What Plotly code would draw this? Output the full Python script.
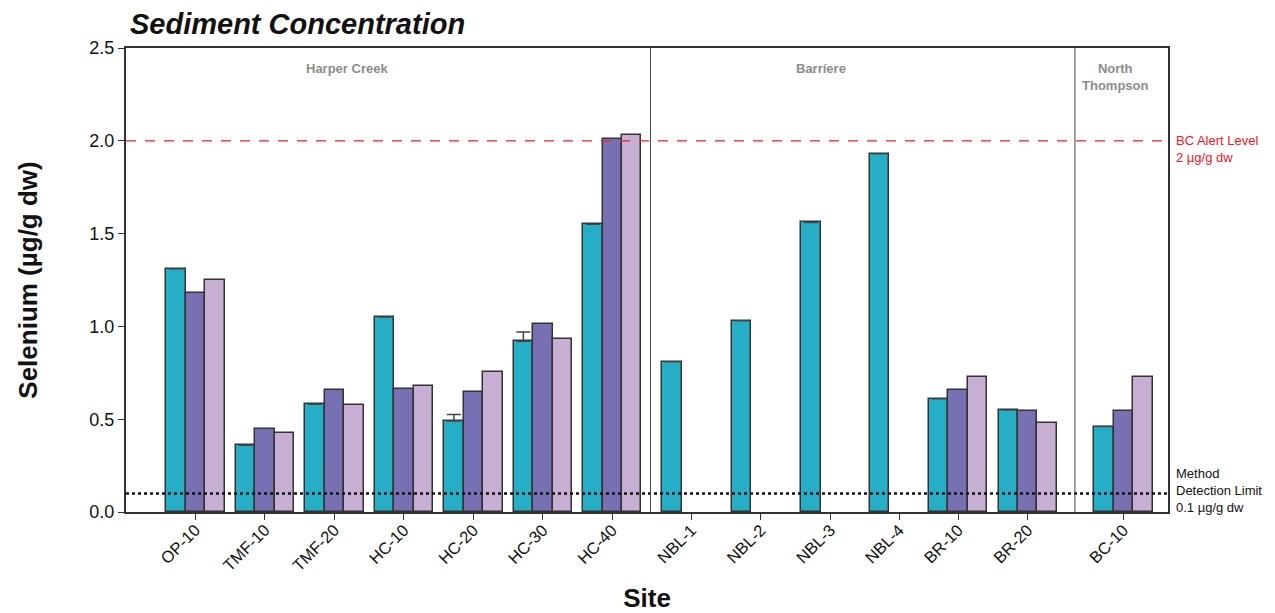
import plotly.graph_objects as go

sites = ["OP-10", "TMF-10", "TMF-20", "HC-10", "HC-20", "HC-30", "HC-40",
         "NBL-1", "NBL-2", "NBL-3", "NBL-4", "BR-10", "BR-20", "BC-10"]
series1 = [1.31, 0.36, 0.58, 1.05, 0.49, 0.92, 1.55, 0.81, 1.03, 1.56, 1.93, 0.61, 0.55, 0.46]
series2 = [1.18, 0.445, 0.655, 0.665, 0.645, 1.015, 2.01, None, None, None, None, 0.66, 0.545, 0.545]
series3 = [1.25, 0.425, 0.575, 0.68, 0.755, 0.93, 2.03, None, None, None, None, 0.725, 0.48, 0.725]
series1_err_plus = [0, 0, 0, 0, 0.035, 0.05, 0, 0, 0, 0, 0, 0, 0, 0]
alert_level = 2.0
detection_limit = 0.1
y_ticks = [0.0, 0.5, 1.0, 1.5, 2.0, 2.5]

# layout positions of site slots on the x axis
x_pos = [0, 1, 2, 3, 4, 5, 6, 7.14, 8.14, 9.14, 10.13, 10.98, 11.98, 13.36]
dividers = [6.55, 12.66]

colors = ["#26AEC6", "#7771B3", "#C7AFD4"]
outline = dict(color="#333333", width=1.5)
bw = 0.28
offsets = [-0.42, -0.14, 0.14]

fig = go.Figure()
for vals, col, off, err in [(series1, colors[0], offsets[0], series1_err_plus),
                            (series2, colors[1], offsets[1], None),
                            (series3, colors[2], offsets[2], None)]:
    kw = {}
    if err is not None:
        kw["error_y"] = dict(type="data", array=err, arrayminus=[0]*len(err), symmetric=False,
                             color="#444444", thickness=1.5, width=7, visible=True)
    fig.add_trace(go.Bar(x=x_pos, y=vals, width=bw, offset=off,
                         marker=dict(color=col, line=outline), showlegend=False, **kw))

# reference lines
fig.add_shape(type="line", xref="paper", x0=0, x1=1, yref="y", y0=alert_level, y1=alert_level,
              line=dict(color="#E8202A", width=1.3, dash="10px,9px"), layer="above")
fig.add_shape(type="line", xref="paper", x0=0, x1=1, yref="y", y0=detection_limit, y1=detection_limit,
              line=dict(color="#111111", width=2.5, dash="dot"), layer="above")
for d in dividers:
    fig.add_shape(type="line", xref="x", x0=d, x1=d, yref="paper", y0=0, y1=1,
                  line=dict(color="#444444", width=1))

grp_font = dict(family="Liberation Sans, Arial, sans-serif", size=13, color="#8C8C8C")
fig.add_annotation(x=2.18, y=2.39, xref="x", yref="y", text="<b>Harper Creek</b>",
                   showarrow=False, font=grp_font)
fig.add_annotation(x=9.0, y=2.39, xref="x", yref="y", text="<b>Barríere</b>",
                   showarrow=False, font=grp_font)
fig.add_annotation(x=13.24, y=2.345, xref="x", yref="y", text="<b>North<br>Thompson</b>",
                   showarrow=False, font=grp_font)

side_font = dict(family="Liberation Sans, Arial, sans-serif", size=13)
fig.add_annotation(x=1.0, xref="paper", xanchor="left", xshift=6, y=alert_level, yref="y",
                   yanchor="middle", yshift=-8, align="left",
                   text="BC Alert Level<br>2 µg/g dw", showarrow=False,
                   font=dict(side_font, color="#E8202A"))
fig.add_annotation(x=1.0, xref="paper", xanchor="left", xshift=6, y=detection_limit, yref="y",
                   yanchor="middle", yshift=3, align="left",
                   text="Method<br>Detection Limit<br>0.1 µg/g dw", showarrow=False,
                   font=dict(side_font, color="#111111"))

fig.update_layout(
    width=1267, height=605,
    margin=dict(l=118, r=107, t=40, b=101, autoexpand=False),
    plot_bgcolor="white", paper_bgcolor="white",
    font=dict(family="Liberation Sans, Arial, sans-serif", color="#111111"),
    title=dict(text="<b><i>Sediment Concentration</i></b>", x=0.0963, xanchor="left",
               y=0.974, yanchor="middle", font=dict(size=29, color="#111111")),
    xaxis=dict(range=[-1, 14], tickmode="array", tickvals=x_pos, ticktext=sites,
               tickangle=-45, ticks="outside", ticklen=6, tickcolor="#333333",
               tickfont=dict(size=16.5), showgrid=False, zeroline=False,
               showline=True, linecolor="#333333", linewidth=2, mirror=True,
               ticklabelstandoff=-6, automargin=False,
               title=dict(text="<b>Site</b>", font=dict(size=26), standoff=18)),
    yaxis=dict(range=[0, 2.5], tickmode="array", tickvals=y_ticks,
               ticktext=[f"{v:.1f}" for v in y_ticks],
               ticks="outside", ticklen=6, tickcolor="#333333",
               tickfont=dict(size=18), showgrid=False, zeroline=False,
               showline=True, linecolor="#333333", linewidth=2, mirror=True,
               automargin=False,
               title=dict(text="<b>Selenium (µg/g dw)</b>", font=dict(size=26), standoff=44)),
    bargap=0,
)

fig.write_html("out.html")
